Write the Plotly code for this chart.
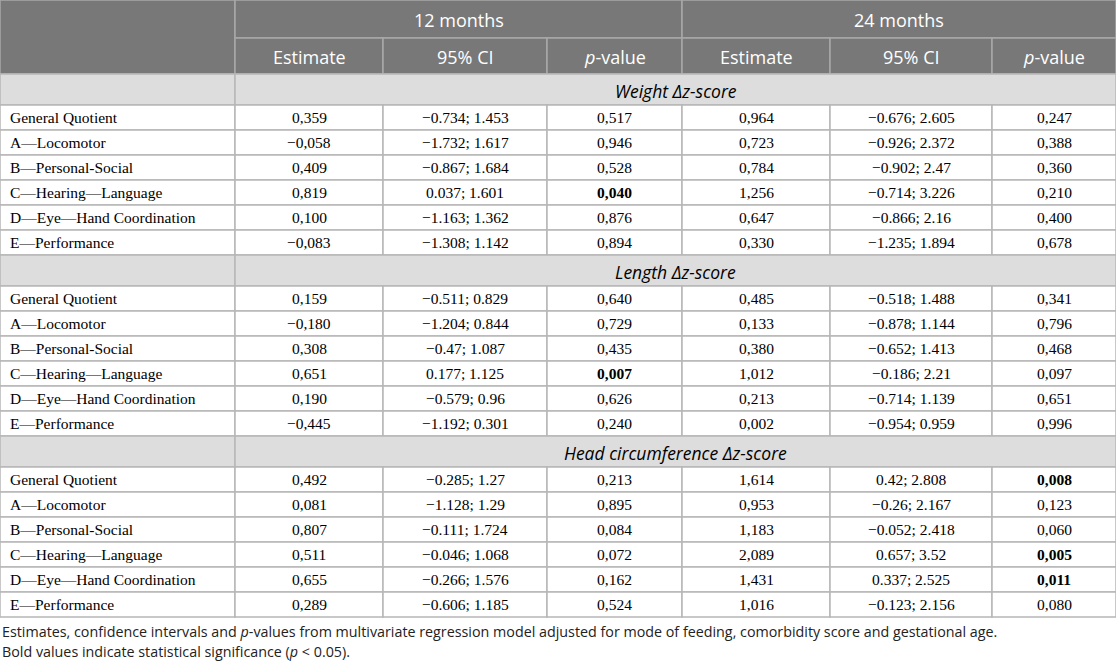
import plotly.graph_objects as go

# Table content
sections = ["Weight Δz-score", "Length Δz-score", "Head circumference Δz-score"]
row_labels = ["General Quotient", "A—Locomotor", "B—Personal-Social",
              "C—Hearing—Language", "D—Eye—Hand Coordination", "E—Performance"]
periods = ["12 months", "24 months"]
sub_headers = ["Estimate", "95% CI", "<i>p</i>-value"]

# one entry per data row (weight x6, length x6, head circumference x6)
est_12 = ["0,359", "−0,058", "0,409", "0,819", "0,100", "−0,083",
          "0,159", "−0,180", "0,308", "0,651", "0,190", "−0,445",
          "0,492", "0,081", "0,807", "0,511", "0,655", "0,289"]
ci_12 = ["−0.734; 1.453", "−1.732; 1.617", "−0.867; 1.684", "0.037; 1.601", "−1.163; 1.362", "−1.308; 1.142",
         "−0.511; 0.829", "−1.204; 0.844", "−0.47; 1.087", "0.177; 1.125", "−0.579; 0.96", "−1.192; 0.301",
         "−0.285; 1.27", "−1.128; 1.29", "−0.111; 1.724", "−0.046; 1.068", "−0.266; 1.576", "−0.606; 1.185"]
p_12 = ["0,517", "0,946", "0,528", "0,040", "0,876", "0,894",
        "0,640", "0,729", "0,435", "0,007", "0,626", "0,240",
        "0,213", "0,895", "0,084", "0,072", "0,162", "0,524"]
est_24 = ["0,964", "0,723", "0,784", "1,256", "0,647", "0,330",
          "0,485", "0,133", "0,380", "1,012", "0,213", "0,002",
          "1,614", "0,953", "1,183", "2,089", "1,431", "1,016"]
ci_24 = ["−0.676; 2.605", "−0.926; 2.372", "−0.902; 2.47", "−0.714; 3.226", "−0.866; 2.16", "−1.235; 1.894",
         "−0.518; 1.488", "−0.878; 1.144", "−0.652; 1.413", "−0.186; 2.21", "−0.714; 1.139", "−0.954; 0.959",
         "0.42; 2.808", "−0.26; 2.167", "−0.052; 2.418", "0.657; 3.52", "0.337; 2.525", "−0.123; 2.156"]
p_24 = ["0,247", "0,388", "0,360", "0,210", "0,400", "0,678",
        "0,341", "0,796", "0,468", "0,097", "0,651", "0,996",
        "0,008", "0,123", "0,060", "0,005", "0,011", "0,080"]
# significant p-values (row index, column index) shown in bold
bold_cells = [(3, 2), (9, 2), (12, 5), (15, 5), (16, 5)]

footnotes = ["Estimates, confidence intervals and <i>p</i>-values from multivariate regression model "
             "adjusted for mode of feeding, comorbidity score and gestational age.",
             "Bold values indicate statistical significance (<i>p</i> < 0.05)."]

# layout of the grid
col_edges = [0, 235, 383, 547, 682, 830, 992, 1116]
h_top, h_sub, h_sec, h_row = 38, 36, 31, 25
W, H = 1116, 666

HEAD_BG = "#787878"
HEAD_LINE = "#a8a8a8"
SEC_BG = "#dddddd"
GRID = "#b6b6b6"
sans = "Open Sans, sans-serif"
serif = "Liberation Serif, Times New Roman, serif"

shapes = []
annots = []


def cell(x0, x1, y0, y1, fill, line):
    shapes.append(dict(type="rect", xref="x", yref="y", x0=x0, x1=x1, y0=y0, y1=y1,
                       fillcolor=fill, line=dict(color=line, width=1.5), layer="below"))


def text(x, y, s, font, size, color="black", anchor="center"):
    annots.append(dict(x=x, y=y, xref="x", yref="y", text=s, showarrow=False,
                       xanchor=anchor, yanchor="middle",
                       font=dict(family=font, size=size, color=color)))


# header
cell(col_edges[0], col_edges[1], 0, h_top + h_sub, HEAD_BG, HEAD_LINE)
for k, per in enumerate(periods):
    x0, x1 = col_edges[1 + 3 * k], col_edges[4 + 3 * k]
    cell(x0, x1, 0, h_top, HEAD_BG, HEAD_LINE)
    text((x0 + x1) / 2, h_top / 2 + 1, per, sans, 18, "white")
    for j, sh in enumerate(sub_headers):
        a, b = col_edges[1 + 3 * k + j], col_edges[2 + 3 * k + j]
        cell(a, b, h_top, h_top + h_sub, HEAD_BG, HEAD_LINE)
        text((a + b) / 2, h_top + h_sub / 2 + 1, sh, sans, 18, "white")

# body
columns = [est_12, ci_12, p_12, est_24, ci_24, p_24]
y = h_top + h_sub
for s, sec in enumerate(sections):
    cell(col_edges[0], col_edges[1], y, y + h_sec, SEC_BG, GRID)
    cell(col_edges[1], col_edges[-1], y, y + h_sec, SEC_BG, GRID)
    text((col_edges[1] + col_edges[-1]) / 2, y + h_sec / 2 + 1, "<i>" + sec + "</i>", sans, 17.5)
    y += h_sec
    for r, lab in enumerate(row_labels):
        idx = s * len(row_labels) + r
        cell(col_edges[0], col_edges[1], y, y + h_row, "white", GRID)
        text(col_edges[0] + 8, y + h_row / 2, lab, serif, 15.5, anchor="left")
        for c, col in enumerate(columns):
            a, b = col_edges[c + 1], col_edges[c + 2]
            cell(a, b, y, y + h_row, "white", GRID)
            val = col[idx]
            if (idx, c) in bold_cells:
                val = "<b>" + val + "</b>"
            text((a + b) / 2, y + h_row / 2, val, serif, 15.5)
        y += h_row

# notes under the table
for i, note in enumerate(footnotes):
    text(0, y + 14 + i * 20, note, sans, 14.3, "#222222", anchor="left")

fig = go.Figure()
fig.update_layout(
    width=W, height=H,
    margin=dict(l=0, r=0, t=0, b=0),
    paper_bgcolor="white", plot_bgcolor="white",
    xaxis=dict(range=[0, W], visible=False, fixedrange=True),
    yaxis=dict(range=[H, 0], visible=False, fixedrange=True),
    shapes=shapes, annotations=annots,
    showlegend=False,
)
fig.write_html("out.html", config={"displayModeBar": False},
               post_script="document.body.style.margin='0';document.body.style.overflow='hidden';")
